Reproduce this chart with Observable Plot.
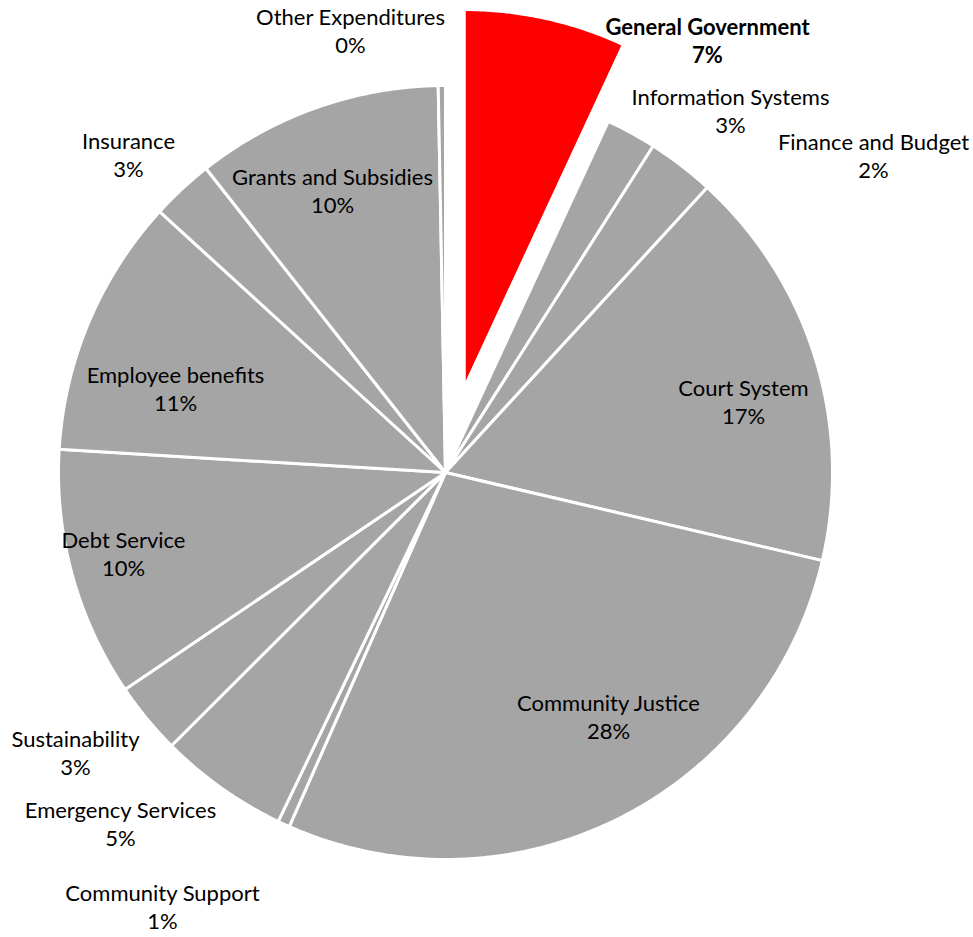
<!DOCTYPE html>
<html>
<head>
<meta charset="utf-8">
<script src="https://cdn.jsdelivr.net/npm/d3@7"></script>
<script src="https://cdn.jsdelivr.net/npm/@observablehq/plot@0.6"></script>
<style>
  html, body { margin: 0; padding: 0; background: #fff; }
  #chart svg { display: block; }
</style>
</head>
<body>
<div id="chart"></div>
<script>
// ---- Data ----
const categories = [
  "General Government", "Finance and Budget", "Information Systems", "Court System",
  "Community Justice", "Community Support", "Emergency Services", "Sustainability",
  "Debt Service", "Employee benefits", "Insurance", "Grants and Subsidies", "Other Expenditures"
];
const values = [6.9, 2.1, 2.8, 16.8, 27.9, 0.5, 5.4, 3.0, 10.4, 10.8, 2.6, 10.3, 0.3];
const highlighted = ["General Government"];

// ---- Layout / style (not data) ----
const W = 973, H = 937;
const cx = 445, cy = 472, R = 387;
const explodeDist = 87, explodeR = 378;
// label block centres relative to pie centre (Excel "best fit" placement)
const labelOffset = [
  [262, -432], [428, -317], [285, -362], [298, -71], [163, 244], [-283, 434],
  [-325, 351], [-370, 280], [-322, 81], [-270, -84], [-317, -318], [-113, -282], [-95, -442]
];

const total = d3.sum(values);
let acc = 0;
const slices = categories.map((name, i) => {
  const a0 = acc / total * 2 * Math.PI;
  acc += values[i];
  const a1 = acc / total * 2 * Math.PI;
  return {name, value: values[i], a0, a1, i, hi: highlighted.includes(name)};
});

// polygon vertices for each slice, derived from the angles
const pts = [];
for (const s of slices) {
  const mid = (s.a0 + s.a1) / 2;
  const ox = s.hi ? explodeDist * Math.sin(mid) : 0;
  const oy = s.hi ? -explodeDist * Math.cos(mid) : 0;
  const r = s.hi ? explodeR : R;
  const x0 = cx + ox, y0 = cy + oy;
  pts.push({name: s.name, x: x0, y: y0, hi: s.hi});
  const n = Math.max(2, Math.ceil((s.a1 - s.a0) / (Math.PI / 360)));
  for (let k = 0; k <= n; k++) {
    const a = s.a0 + (s.a1 - s.a0) * k / n;
    pts.push({name: s.name, x: x0 + r * Math.sin(a), y: y0 - r * Math.cos(a), hi: s.hi});
  }
  pts.push({name: s.name, x: x0, y: y0, hi: s.hi});
}

const labels = slices.map(s => ({
  name: s.name,
  text: s.name + "\n" + Math.round(s.value / total * 100) + "%",
  x: cx + labelOffset[s.i][0],
  y: cy + labelOffset[s.i][1],
  hi: s.hi
}));

const chart = Plot.plot({
  width: W,
  height: H,
  margin: 0,
  x: {domain: [0, W], range: [0, W], axis: null},
  y: {domain: [0, H], range: [0, H], axis: null},
  style: {background: "#fff"},
  marks: [
    Plot.line(pts, {
      x: "x", y: "y", z: "name",
      fill: d => d.hi ? "#FF0000" : "#A5A5A5",
      stroke: "#ffffff", strokeWidth: 3, strokeLinejoin: "round", curve: "linear"
    }),
    Plot.text(labels.filter(d => !d.hi), {
      x: "x", y: "y", text: "text",
      fontSize: 22, fontFamily: "Lato", fill: "#000", lineHeight: 1.27,
      lineAnchor: "middle", textAnchor: "middle"
    }),
    Plot.text(labels.filter(d => d.hi), {
      x: "x", y: "y", text: "text",
      fontSize: 22, fontFamily: "Lato", fontWeight: "bold", fill: "#000", lineHeight: 1.27,
      lineAnchor: "middle", textAnchor: "middle"
    })
  ]
});
document.getElementById("chart").appendChild(chart);
</script>
</body>
</html>
